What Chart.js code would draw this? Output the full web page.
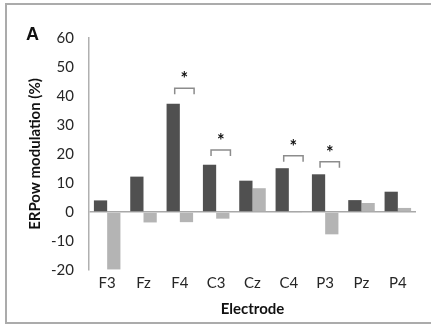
<!DOCTYPE html>
<html>
<head>
<meta charset="utf-8">
<script src="https://cdn.jsdelivr.net/npm/chart.js@4.4.0/dist/chart.umd.min.js"></script>
<style>
  html, body { margin: 0; padding: 0; background: #fff; }
  #wrap { position: relative; width: 431px; height: 324px; overflow: hidden; }
  #frame { position: absolute; left: 5px; top: 3px; width: 440px; height: 317px; border: 2px solid #ababab; }
  #chart { position: absolute; left: 0; top: 0; }
</style>
</head>
<body>
<div id="wrap">
  <div id="frame"></div>
  <canvas id="chart" width="431" height="324"></canvas>
</div>
<script>
// electrodes and the two series (%)
const electrodes = ['F3', 'Fz', 'F4', 'C3', 'Cz', 'C4', 'P3', 'Pz', 'P4'];
const darkVals = [4.0, 12.2, 37.3, 16.3, 10.8, 15.1, 13.0, 4.1, 7.0];
const lightVals = [-19.8, -3.6, -3.5, -2.3, 8.2, -0.2, -7.7, 3.1, 1.4];
// significance brackets: level in % (null = none)
const sigLevel = [null, null, 42.7, 21.4, null, 19.4, 17.3, null, null];
const yTicks = { min: -20, max: 60, step: 10 };

const font = 'Lato, "Open Sans", sans-serif';

const sigPlugin = {
  id: 'sig',
  afterDatasetsDraw(chart) {
    const ctx = chart.ctx;
    const y = chart.scales.y;
    const m0 = chart.getDatasetMeta(0);
    const m1 = chart.getDatasetMeta(1);
    ctx.save();
    sigLevel.forEach((lvl, i) => {
      if (lvl === null) return;
      const b0 = m0.data[i], b1 = m1.data[i];
      const x1 = b0.x + 1.5;
      const x2 = b1.x + b1.width / 2 + 1;
      const yy = y.getPixelForValue(lvl);
      ctx.strokeStyle = '#8c8c8c';
      ctx.lineWidth = 1.5;
      ctx.beginPath();
      ctx.moveTo(x1, yy + 6);
      ctx.lineTo(x1, yy);
      ctx.lineTo(x2, yy);
      ctx.lineTo(x2, yy + 6);
      ctx.stroke();
      ctx.fillStyle = '#111';
      ctx.font = 'bold 18px ' + font;
      ctx.textAlign = 'center';
      ctx.textBaseline = 'middle';
      ctx.fillText('*', (x1 + x2) / 2, yy - 9);
    });
    // panel letter
    ctx.fillStyle = '#111';
    ctx.font = 'bold 18px "Liberation Sans", Arial, sans-serif';
    ctx.textAlign = 'center';
    ctx.textBaseline = 'middle';
    ctx.fillText('A', 32.5, 35.5);
    ctx.restore();
  }
};

new Chart(document.getElementById('chart'), {
  type: 'bar',
  data: {
    labels: electrodes,
    datasets: [
      { data: darkVals, backgroundColor: '#505050', categoryPercentage: 0.73, barPercentage: 1 },
      { data: lightVals, backgroundColor: '#b4b4b4', categoryPercentage: 0.73, barPercentage: 1 }
    ]
  },
  options: {
    responsive: false,
    animation: false,
    layout: { padding: { top: 38, right: 15, left: 0, bottom: 0 } },
    plugins: { legend: { display: false }, tooltip: { enabled: false } },
    scales: {
      x: {
        grid: { display: false, drawTicks: false },
        border: { display: false },
        ticks: { color: '#262626', font: { family: font, size: 15 }, padding: 4, maxRotation: 0 },
        title: { display: true, text: 'Electrode', color: '#111', font: { family: font, size: 15, weight: 'bold' }, padding: { top: 0, bottom: 6 } },
        afterFit(s) { s.height = 54; }
      },
      y: {
        min: yTicks.min,
        max: yTicks.max,
        ticks: { stepSize: yTicks.step, color: '#262626', font: { family: font, size: 15 }, padding: 15 },
        grid: {
          drawTicks: false,
          color: c => (c.tick && c.tick.value === 0 ? '#a8a8a8' : 'rgba(0,0,0,0)'),
          lineWidth: 1.5
        },
        border: { display: true, color: '#b0b0b0', width: 1.5 },
        title: { display: true, text: 'ERPow modulation (%)', color: '#111', font: { family: font, size: 15, weight: 'bold' }, padding: { top: 26, bottom: 0 } },
        afterFit(s) { s.width = 89; }
      }
    }
  },
  plugins: [sigPlugin]
});
</script>
</body>
</html>
